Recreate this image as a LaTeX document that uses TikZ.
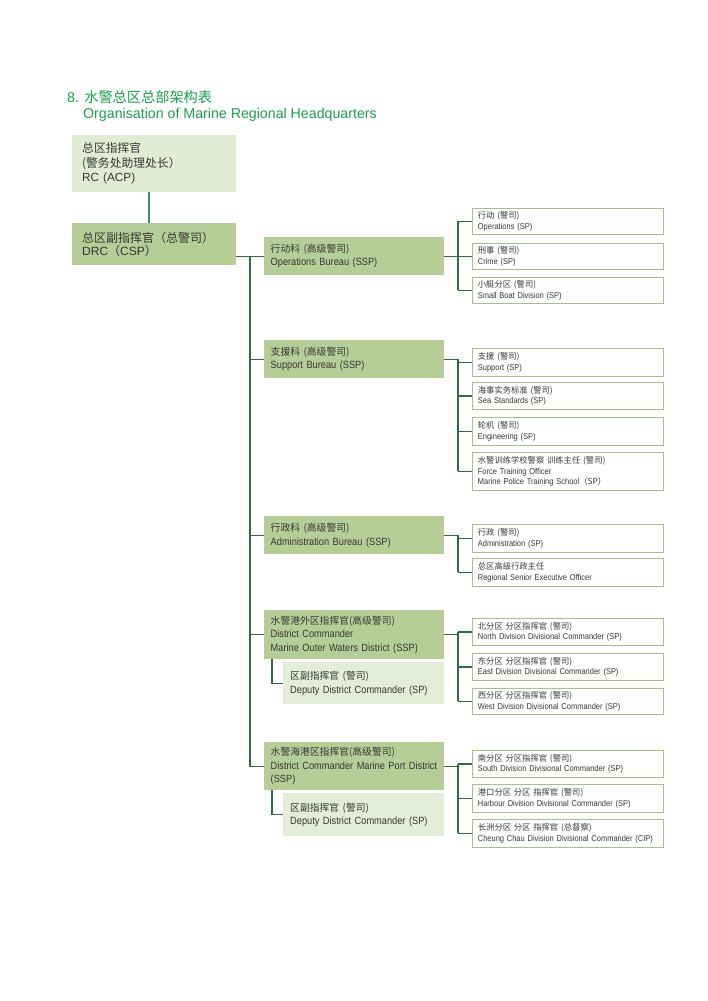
\documentclass[tikz,border=0pt]{standalone}
\usepackage{fontspec}
\setmainfont{Liberation Sans}
\newfontfamily\cjk{Noto Sans CJK SC}
\newfontfamily\enc{Liberation Sans}[FakeStretch=0.88]
\definecolor{titlec}{RGB}{30,158,80}
\definecolor{rcfill}{RGB}{226,236,212}
\definecolor{bufill}{RGB}{181,205,150}
\definecolor{depfill}{RGB}{228,237,215}
\definecolor{subline}{RGB}{168,192,140}
\definecolor{linec}{RGB}{44,110,63}
\definecolor{tealc}{RGB}{60,140,112}
\definecolor{textc}{RGB}{55,55,55}
\newcommand\zhb[1]{{\cjk\fontsize{9.8}{13.5}\selectfont #1}}
\newcommand\zhs[1]{{\cjk\fontsize{8.3}{10.8}\selectfont #1}}
\newcommand\zhr[1]{{\cjk #1}}
\begin{document}
\begin{tikzpicture}[x=1pt,y=-1pt,
  rcbox/.style={fill=rcfill, anchor=north west, inner xsep=10pt, inner ysep=0pt, align=left, text=textc, text width=144pt, font=\fontsize{11.8}{14.5}\selectfont},
  bubox/.style={fill=bufill, anchor=north west, inner xsep=6.5pt, inner ysep=0pt, align=left, text=textc, text width=167pt, font=\enc\fontsize{10.5}{13.5}\selectfont},
  depbox/.style={fill=depfill, anchor=north west, inner xsep=7pt, inner ysep=0pt, align=left, text=textc, text width=147pt, font=\enc\fontsize{10.5}{13.5}\selectfont},
  subbox/.style={fill=white, draw=subline, line width=0.8pt, anchor=north west, inner xsep=5.5pt, inner ysep=0pt, align=left, text=textc, text width=180pt, font=\enc\fontsize{8.5}{10.8}\selectfont},
  conn/.style={draw=linec, line width=1.3pt},
  tconn/.style={draw=tealc, line width=1.3pt}
]
\useasboundingbox (0,0) rectangle (708,1001);
\fill[white] (0,0) rectangle (708,1001);

% title
\node[anchor=base west, inner sep=0pt, text=titlec, font=\fontsize{14.2}{17}\selectfont] (t1) at (67,102) {8. \zhr{水警总区总部架构表}};
\node[anchor=base west, inner sep=0pt, text=titlec, font=\fontsize{14.2}{17}\selectfont] (t2) at (83,118) {Organisation of Marine Regional Headquarters};

% top boxes
\node[rcbox, minimum height=57pt] (rc) at (72,135) {\zhr{总区指挥官}\\\zhr{(警务处助理处长）}\\RC (ACP)};
\node[rcbox, fill=bufill, minimum height=42pt, font=\fontsize{12}{13.5}\selectfont] (drc) at (72,223) {\zhr{总区副指挥官（总警司）}\\DRC\zhr{（}CSP\zhr{）}};

% bureaus
\node[bubox, minimum height=38pt] (ops) at (264,237) {\zhb{行动科 (高级警司)}\\Operations Bureau (SSP)};
\node[bubox, minimum height=38pt] (sup) at (264,340) {\zhb{支援科 (高级警司)}\\Support Bureau (SSP)};
\node[bubox, minimum height=38pt] (adm) at (264,516) {\zhb{行政科 (高级警司)}\\Administration Bureau (SSP)};
\node[bubox, minimum height=49pt] (outer) at (264,610) {\zhb{水警港外区指挥官(高级警司)}\\District Commander\\Marine Outer Waters District (SSP)};
\node[bubox, minimum height=48pt] (port) at (264,742) {\zhb{水警海港区指挥官(高级警司)}\\District Commander Marine Port District\\(SSP)};

% deputies
\node[depbox, minimum height=42pt] (dep1) at (283,662) {\zhb{区副指挥官 (警司)}\\Deputy District Commander (SP)};
\node[depbox, minimum height=43pt] (dep2) at (283,793) {\zhb{区副指挥官 (警司)}\\Deputy District Commander (SP)};

% sub boxes
\node[subbox, minimum height=26pt] (o1) at (472,208) {\zhs{行动 (警司)}\\Operations (SP)};
\node[subbox, minimum height=26pt] (o2) at (472,243) {\zhs{刑事 (警司)}\\Crime (SP)};
\node[subbox, minimum height=26pt] (o3) at (472,277) {\zhs{小艇分区 (警司)}\\Small Boat Division (SP)};

\node[subbox, minimum height=28pt] (s1) at (472,348) {\zhs{支援 (警司)}\\Support (SP)};
\node[subbox, minimum height=27pt] (s2) at (472,382) {\zhs{海事实务标准 (警司)}\\Sea Standards (SP)};
\node[subbox, minimum height=28pt] (s3) at (472,417) {\zhs{轮机 (警司)}\\Engineering (SP)};
\node[subbox, minimum height=38pt] (s4) at (472,452) {\zhs{水警训练学校警察 训练主任 (警司)}\\Force Training Officer\\Marine Police Training School\zhs{（SP）}};

\node[subbox, minimum height=28pt] (a1) at (472,524) {\zhs{行政 (警司)}\\Administration (SP)};
\node[subbox, minimum height=28pt] (a2) at (472,558) {\zhs{总区高级行政主任}\\Regional Senior Executive Officer};

\node[subbox, minimum height=27pt] (w1) at (472,618) {\zhs{北分区 分区指挥官 (警司)}\\North Division Divisional Commander (SP)};
\node[subbox, minimum height=27pt] (w2) at (472,653) {\zhs{东分区 分区指挥官 (警司)}\\East Division Divisional Commander (SP)};
\node[subbox, minimum height=26pt] (w3) at (472,688) {\zhs{西分区 分区指挥官 (警司)}\\West Division Divisional Commander (SP)};

\node[subbox, minimum height=27pt] (p1) at (472,750) {\zhs{南分区 分区指挥官 (警司)}\\South Division Divisional Commander (SP)};
\node[subbox, minimum height=28pt] (p2) at (472,784) {\zhs{港口分区 分区 指挥官 (警司)}\\Harbour Division Divisional Commander (SP)};
\node[subbox, minimum height=28pt] (p3) at (472,819) {\zhs{长洲分区 分区 指挥官 (总督察)}\\Cheung Chau Division Divisional Commander (CIP)};

% connectors
\coordinate (tr) at (250,0);
\coordinate (sx) at (458,0);
\draw[tconn] (rc.south -| 149,0) -- (drc.north -| 149,0);
\draw[conn] (drc.east |- ops.west) -- (ops.west);
\draw[conn] (tr |- ops.west) |- (port.west);
\draw[conn] (tr |- sup.west) -- (sup.west);
\draw[conn] (tr |- adm.west) -- (adm.west);
\draw[conn] (tr |- outer.west) -- (outer.west);

\draw[conn] ([xshift=8pt]outer.south west) |- (dep1.west);
\draw[conn] ([xshift=8pt]port.south west) |- (dep2.west);

\foreach \b/\f/\l/\all in {ops/o1/o3/{o1,o2,o3}, sup/s1/s4/{s1,s2,s3,s4}, adm/a1/a2/{a1,a2}, outer/w1/w3/{w1,w2,w3}, port/p1/p3/{p1,p2,p3}}{
  \draw[conn] (\b.east) -- (sx |- \b.east);
  \draw[conn] (sx |- \f.west) -- (sx |- \l.west);
  \draw[conn] (sx |- \b.east) -- (sx |- \f.west);
  \foreach \s in \all { \draw[conn] (sx |- \s.west) -- (\s.west); }
}
\end{tikzpicture}
\end{document}
